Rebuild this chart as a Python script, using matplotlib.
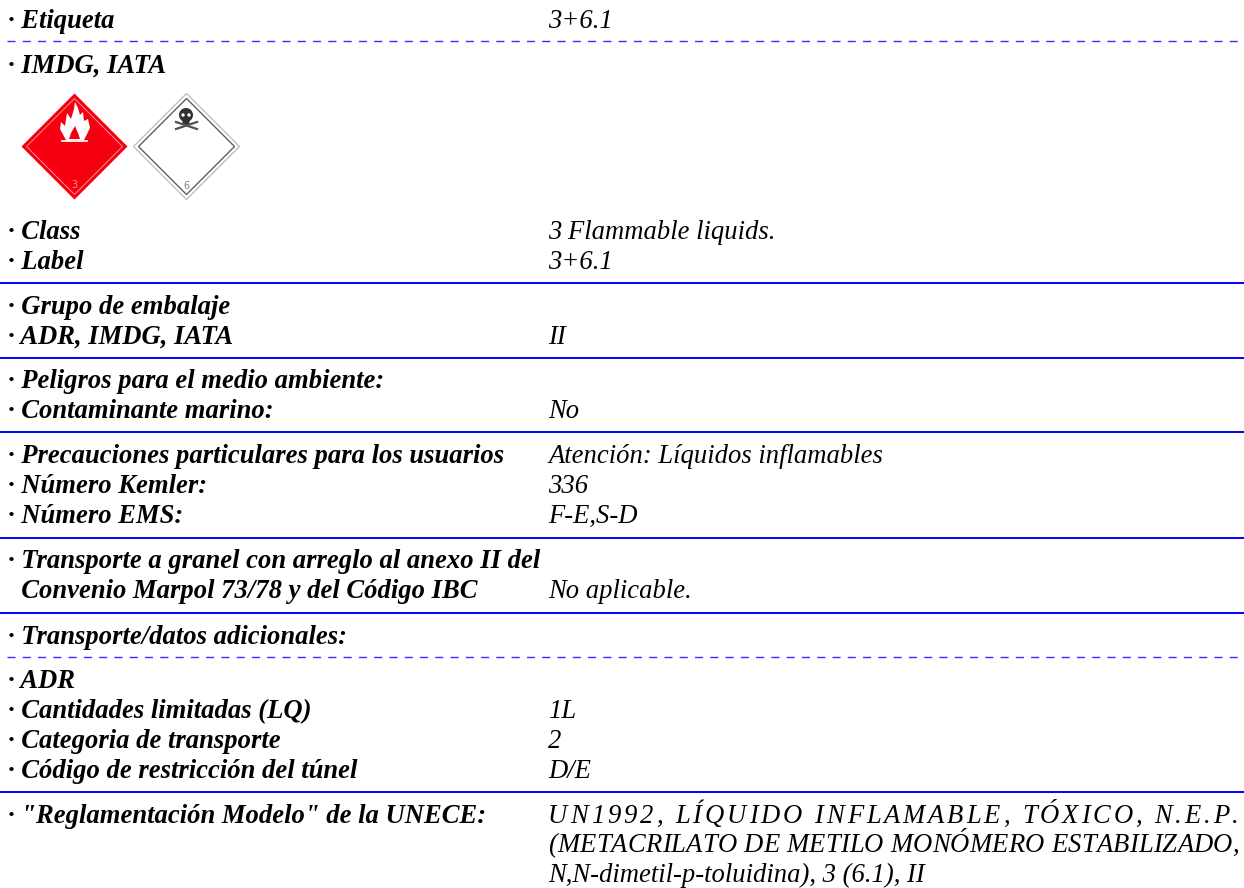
# coding: utf-8

from matplotlib import pyplot as plt
from matplotlib.patches import Polygon, Circle

# text rows: y baseline (px), left label, right value
labels = [(28, "· Etiqueta", "3+6.1"),
          (73, "· IMDG, IATA", ""),
          (239, "· Class", "3 Flammable liquids."),
          (269, "· Label", "3+6.1"),
          (314, "· Grupo de embalaje", ""),
          (344, "· ADR, IMDG, IATA", "II"),
          (388, "· Peligros para el medio ambiente:", ""),
          (418, "· Contaminante marino:", "No"),
          (463, "· Precauciones particulares para los usuarios", "Atención: Líquidos inflamables"),
          (493, "· Número Kemler:", "336"),
          (523, "· Número EMS:", "F-E,S-D"),
          (568, "· Transporte a granel con arreglo al anexo II del", ""),
          (598, "  Convenio Marpol 73/78 y del Código IBC", "No aplicable."),
          (644, "· Transporte/datos adicionales:", ""),
          (688, "· ADR", ""),
          (718, "· Cantidades limitadas (LQ)", "1L"),
          (748, "· Categoria de transporte", "2"),
          (778, "· Código de restricción del túnel", "D/E"),
          (823, '· "Reglamentación Modelo" de la UNECE:', "")]
justified = [(823, "UN1992, LÍQUIDO INFLAMABLE, TÓXICO, N.E.P."),
             (852, "(METACRILATO DE METILO MONÓMERO ESTABILIZADO,")]
last_line = (882, "N,N-dimetil-p-toluidina), 3 (6.1), II")
solid_rules = [283, 358, 432, 538, 613, 792]
dashed_rules = [41, 657]

LEFT, VALUE_X, TEXT_END = 8, 548, 1239
FONT = "Liberation Serif"
SIZE = 19.2
BLUE = "#0000ff"

fig = plt.figure(figsize=(12.44, 8.88), dpi=100)
ax = fig.add_axes([0, 0, 1, 1])
ax.set_xlim(0, 1244)
ax.set_ylim(888, 0)
ax.axis("off")


def put(x, y, s, bold=False):
  return ax.text(x, y, s, family=FONT, style="italic", size=SIZE,
                 weight="bold" if bold else "normal", va="baseline",
                 color="black")


def put_spread(x, y, s, x_end):
  """Letter by letter, stretched to reach x_end."""
  renderer = fig.canvas.get_renderer()
  probe = put(0, 0, "nn")
  base = probe.get_window_extent(renderer).width
  probe.remove()
  widths = []
  for c in s:
    probe = put(0, 0, "n" + c + "n")
    widths.append(probe.get_window_extent(renderer).width - base)
    probe.remove()
  gap = (x_end - x - sum(widths)) / (len(s) - 1)
  for c, w in zip(s, widths):
    put(x, y, c)
    x += w + gap


for y, left, right in labels:
  put(LEFT, y, left, bold=True)
  if right:
    put(VALUE_X, y, right)

for y, s in justified:
  put_spread(VALUE_X, y, s, TEXT_END)
put(VALUE_X, last_line[0], last_line[1])

for y in solid_rules:
  ax.plot([0, 1244], [y, y], color=BLUE, lw=1.4, solid_capstyle="butt")
for y in dashed_rules:
  ax.plot([7, 1244], [y, y], color="#3030ff", lw=1.0, dashes=(5.8, 5.2),
          dash_capstyle="butt")


def diamond(cx, cy, r):
  return [(cx, cy - r), (cx + r, cy), (cx, cy + r), (cx - r, cy)]


# class 3 placard
ax.add_patch(Polygon(diamond(74.5, 146.5, 53), fc="#f40010", ec="none"))
ax.add_patch(Polygon(diamond(74.5, 146.5, 48), fc="none", ec="#ff9090", lw=0.7))
flame = [(66, 140), (60, 129), (61, 122), (65, 126), (67, 113), (71, 119),
         (74, 109), (75, 102), (78, 108), (80, 115), (83, 112), (84, 121),
         (88, 119), (90, 128), (84, 140)]
ax.add_patch(Polygon(flame, fc="white", ec="none"))
ax.add_patch(Polygon([(69, 139), (71, 133), (75, 126), (78, 133), (80, 139)],
                     fc="#f40010", ec="none"))
ax.plot([62, 87], [141.5, 141.5], color="white", lw=1.3)
ax.text(74, 188, "3", color="#ff9090", size=7, ha="center", family="DejaVu Sans")

# class 6 placard
ax.add_patch(Polygon(diamond(186.5, 146.5, 53), fc="white", ec="#c0c0c0", lw=1.0))
ax.add_patch(Polygon(diamond(186.5, 146.5, 48), fc="none", ec="#606060", lw=1.0))
ax.add_patch(Circle((186, 115), 7, fc="#303030", ec="none"))
ax.add_patch(Polygon([(182, 119), (190, 119), (189, 125), (183, 125)], fc="#303030", ec="none"))
ax.plot([176, 197], [122, 129], color="#505050", lw=1.6)
ax.plot([176, 197], [129, 122], color="#505050", lw=1.6)
ax.add_patch(Circle((183, 115), 1.7, fc="white", ec="none"))
ax.add_patch(Circle((189, 115), 1.7, fc="white", ec="none"))
ax.text(186, 189, "6", color="#808080", size=7, ha="center", family="DejaVu Sans")

fig.savefig("out.png", dpi=100)
